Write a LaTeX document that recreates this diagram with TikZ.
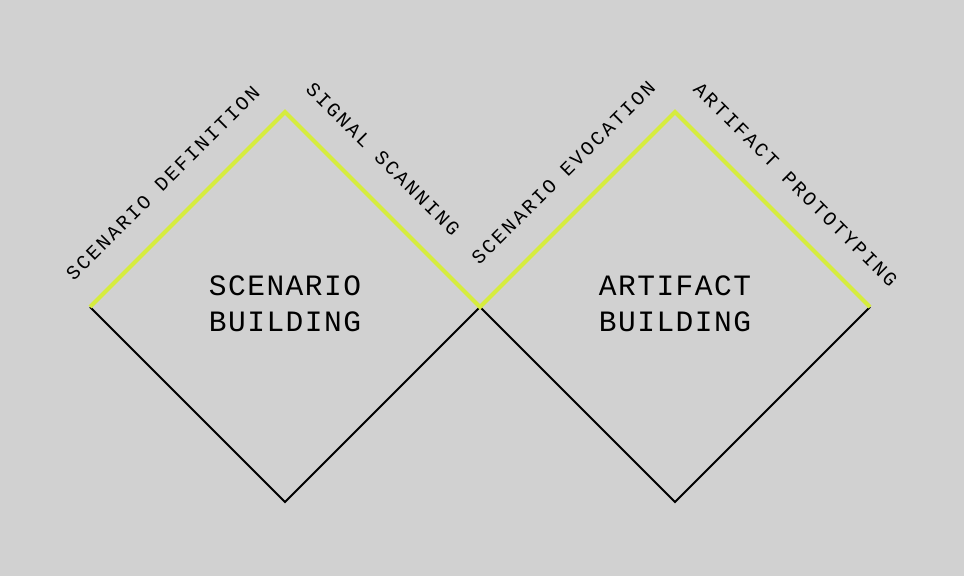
\documentclass[tikz,border=0pt]{standalone}
\usepackage{fontspec}
\usepackage{xcolor}
\newfontfamily\labelfont[LetterSpace=12]{Liberation Mono}
\newfontfamily\titlefont[LetterSpace=5]{Liberation Mono}
\usepackage{tikz}
\usetikzlibrary{calc,positioning}

\definecolor{paper}{RGB}{209,209,209}
\definecolor{lime}{RGB}{214,236,62}

\begin{document}
\begin{tikzpicture}[
  edgelabel/.style={font=\labelfont\fontsize{14}{14}\selectfont, inner sep=0pt},
  phase/.style={font=\titlefont\fontsize{21}{25.6}\selectfont, align=center, inner sep=0pt},
  upperedge/.style={draw=lime, line width=2.8pt, miter limit=10},
  loweredge/.style={draw=black, line width=1.5pt}
]
% Background
\fill[paper] (0,0) rectangle (24.1,14.4);
\useasboundingbox (0,0) rectangle (24.1,14.4);

% Corners of the two diamonds
\coordinate (sl) at (2.25,6.725);
\coordinate (st) at (7.125,11.6);
\coordinate (sb) at (7.125,1.85);
\coordinate (mid) at (12,6.725);
\coordinate (at) at (16.875,11.6);
\coordinate (ab) at (16.875,1.85);
\coordinate (ar) at (21.75,6.725);

% Lower edges
\draw[loweredge] (sl) -- (sb) -- (mid) -- (ab) -- (ar);

% Upper edges
\draw[upperedge] (sl) -- (st) -- (mid) -- (at) -- (ar);

% Edge labels
\node[edgelabel,rotate=45] (define) at ($(sl)!0.504!(st)!0.9cm!90:(st)$) {SCENARIO DEFINITION};
\node[edgelabel,rotate=-45] (scan) at ($(st)!0.372!(mid)!0.9cm!90:(mid)$) {SIGNAL SCANNING};
\node[edgelabel,rotate=45] (evoke) at ($(mid)!0.558!(at)!0.9cm!90:(at)$) {SCENARIO EVOCATION};
\node[edgelabel,rotate=-45] (proto) at ($(at)!0.495!(ar)!0.85cm!90:(ar)$) {ARTIFACT PROTOTYPING};

% Phase titles
\node[phase] (scenario) at ($(sl)!0.5!(mid)+(0,0.075)$) {SCENARIO\\BUILDING};
\node[phase] (artifact) at ($(mid)!0.5!(ar)+(0,0.075)$) {ARTIFACT\\BUILDING};
\end{tikzpicture}
\end{document}
